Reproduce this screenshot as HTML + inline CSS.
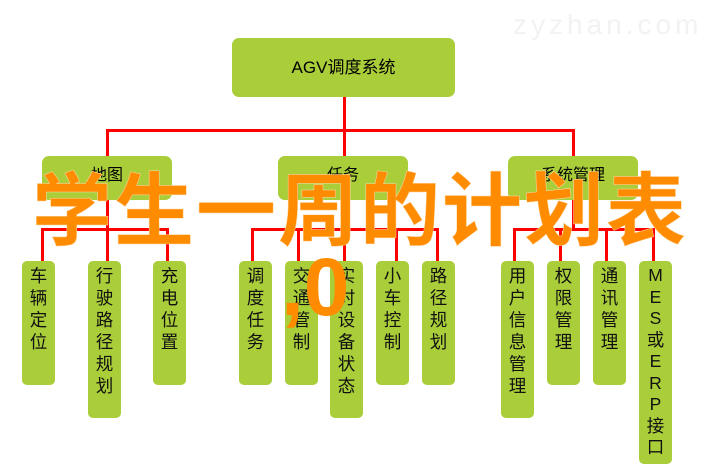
<!DOCTYPE html>
<html><head><meta charset="utf-8"><style>
body{margin:0;width:718px;height:471px;background:#fff;position:relative;overflow:hidden;font-family:"Liberation Sans","Noto Sans CJK SC",sans-serif}
.b{position:absolute;background:#aacd3a;border-radius:7px;color:#000;text-align:center}
.v{position:absolute;background:#aacd3a;border-radius:5px;top:261px;width:33px;font-size:17.5px;line-height:22px;text-align:center;padding-top:4px;box-sizing:border-box;color:#111}
.l{position:absolute;background:#f00}
.h{height:3px}.w{width:3px}
</style></head><body>
<div style="position:absolute;left:513px;top:9px;font-size:28px;letter-spacing:4px;color:#f2f2f2">zyzhan.com</div>
<div class="b" style="left:232px;top:38px;width:223px;height:59px;line-height:59px;font-size:17px">AGV调度系统</div>
<div class="l w" style="left:343px;top:97px;height:164px"></div>
<div class="l h" style="left:106px;top:129px;width:469px"></div>
<div class="l w" style="left:106px;top:129px;height:132px"></div>
<div class="l w" style="left:572px;top:129px;height:30px"></div>
<div class="b" style="left:42px;top:156px;width:130px;height:44px;line-height:40px;font-size:16px">地图</div>
<div class="b" style="left:278px;top:156px;width:130px;height:44px;line-height:40px;font-size:16px">任务</div>
<div class="b" style="left:508px;top:156px;width:130px;height:44px;line-height:40px;font-size:16px">系统管理</div>
<div class="l w" style="left:572px;top:200px;height:30px"></div>
<div class="l h" style="left:41px;top:228px;width:128px"></div>
<div class="l h" style="left:251px;top:228px;width:188px"></div>
<div class="l h" style="left:513px;top:228px;width:142px"></div>
<div class="l w" style="left:41px;top:228px;height:33px"></div>
<div class="l w" style="left:166px;top:228px;height:33px"></div>
<div class="l w" style="left:251px;top:228px;height:33px"></div>
<div class="l w" style="left:297px;top:228px;height:33px"></div>
<div class="l w" style="left:395px;top:228px;height:33px"></div>
<div class="l w" style="left:436px;top:228px;height:33px"></div>
<div class="l w" style="left:513px;top:228px;height:33px"></div>
<div class="l w" style="left:559px;top:228px;height:33px"></div>
<div class="l w" style="left:605px;top:228px;height:33px"></div>
<div class="l w" style="left:652px;top:228px;height:33px"></div>
<div class="v" style="left:22px;height:124px">车<br>辆<br>定<br>位</div>
<div class="v" style="left:88px;height:157px">行<br>驶<br>路<br>径<br>规<br>划</div>
<div class="v" style="left:153px;height:124px">充<br>电<br>位<br>置</div>
<div class="v" style="left:239px;height:124px">调<br>度<br>任<br>务</div>
<div class="v" style="left:285px;height:124px">交<br>通<br>管<br>制</div>
<div class="v" style="left:330px;height:157px">实<br>时<br>设<br>备<br>状<br>态</div>
<div class="v" style="left:376px;height:124px">小<br>车<br>控<br>制</div>
<div class="v" style="left:422px;height:124px">路<br>径<br>规<br>划</div>
<div class="v" style="left:501px;height:157px">用<br>户<br>信<br>息<br>管<br>理</div>
<div class="v" style="left:547px;height:124px">权<br>限<br>管<br>理</div>
<div class="v" style="left:593px;height:124px">通<br>讯<br>管<br>理</div>
<div class="v" style="left:639px;height:203px;line-height:21.5px">M<br>E<br>S<br>或<br>E<br>R<br>P<br>接<br>口</div>
<div style="position:absolute;left:32px;top:150px;font-size:80px;line-height:110px;font-weight:bold;color:#ff8c00;letter-spacing:2px;white-space:nowrap;font-family:'Noto Sans CJK SC',sans-serif;-webkit-text-stroke:0.5px #ffd9a8">学生一周的计划表</div>
<div style="position:absolute;left:281px;top:238px;font-size:82px;line-height:100px;font-weight:bold;color:#ff8c00;font-family:'Liberation Sans',sans-serif">,0</div>
</body></html>
